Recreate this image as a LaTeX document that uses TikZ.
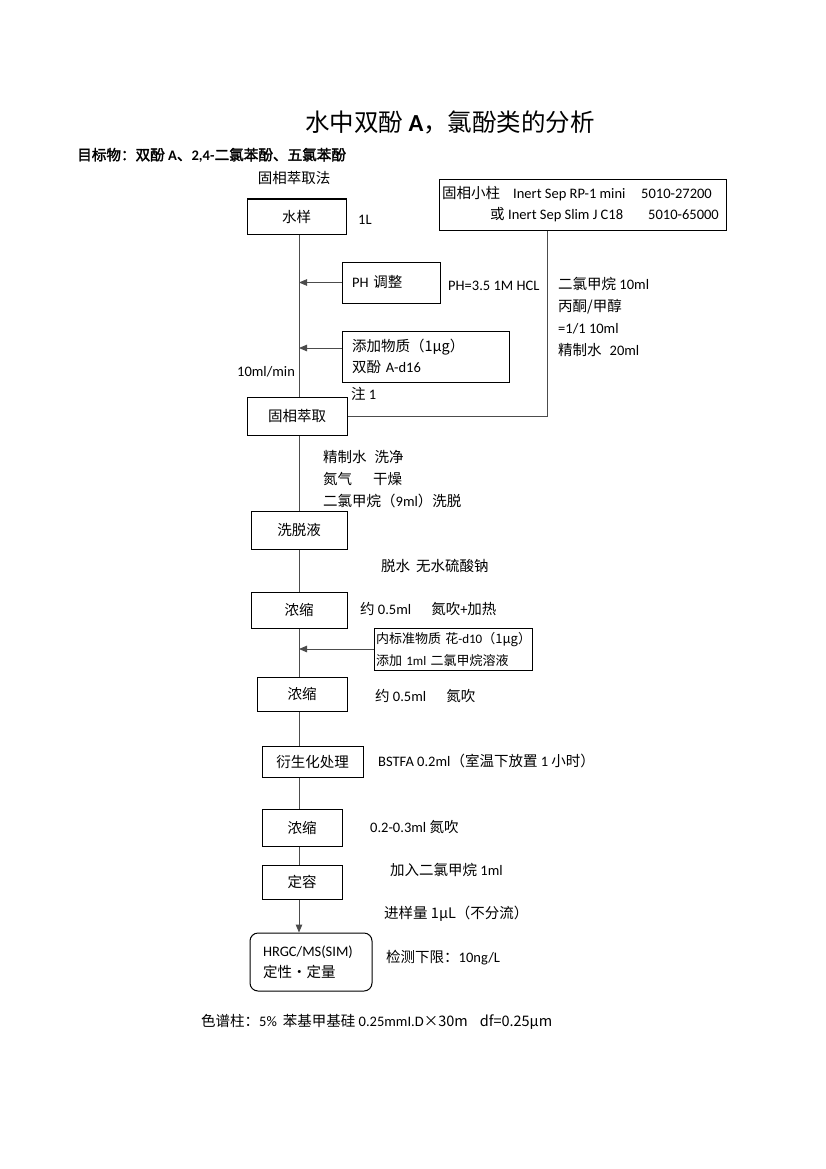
\documentclass[tikz,border=0pt]{standalone}
\usepackage{fontspec}
\setmainfont{Carlito}
\newfontfamily\cjk{Noto Sans CJK SC}[AutoFakeBold=2]
\newcommand\zh[1]{{\cjk #1}}
\usetikzlibrary{arrows.meta}
\begin{document}
\begin{tikzpicture}[x=1pt,y=-1pt,
  every node/.style={inner sep=0pt, font=\fontsize{14.5}{17.4}\selectfont},
  box/.style={draw=black, line width=1pt},
  lbl/.style={anchor=west, text height=0.75em, text depth=0.2em, yshift=-2.5pt},
  flow/.style={draw=black!70, line width=1pt},
  arr/.style={flow, -{Triangle[length=8pt,width=6.5pt]}}]
\fill[white] (0,0) rectangle (826,1169);
\useasboundingbox (0,0) rectangle (826,1169);

% titles
\node[font=\fontsize{24.5}{29}\selectfont] (title) at (450,122) {\zh{水中双酚} \textbf{A}\zh{，氯酚类的分析}};
\node[lbl, font=\bfseries\fontsize{14.6}{17}\selectfont] (target) at (77,155) {\zh{目标物：双酚} A\zh{、}2,4-\zh{二氯苯酚、五氯苯酚}};
\node (method) at (294,178) {\zh{固相萃取法}};

\coordinate (spine) at (299,0);
\coordinate (colx) at (547,0);

% boxes
\node[box, minimum width=99pt, minimum height=35pt] (s1) at (296.5,216.5) {\zh{水样}};
\node[box, minimum width=98pt, minimum height=41pt, text width=78pt, align=left] (ph) at (391,282.5) {\raisebox{2.5pt}{PH \zh{调整}}};
\node[box, minimum width=167pt, minimum height=51pt, text width=147pt, align=left,
      font=\fontsize{14.5}{21}\selectfont] (tj) at (425.5,356.5) {\zh{添加物质（1μg）}\\\zh{双酚} A-d16};
\node[box, minimum width=287pt, minimum height=50pt] (col) at (582.5,205) {};
\node[box, minimum width=100pt, minimum height=38pt] (gx) at (297,416) {\zh{固相萃取}};
\node[box, minimum width=96pt, minimum height=38pt] (xt) at (299,530) {\zh{洗脱液}};
\node[box, minimum width=96pt, minimum height=36pt] (ns1) at (299,610) {\zh{浓缩}};
\node[box, minimum width=158pt, minimum height=42pt, text width=154pt, align=left,
      font=\fontsize{13}{22}\selectfont] (nb) at (453,649) {\mbox{\zh{内标准物质\ 花}-d10\zh{（1μg）}}\\\mbox{\zh{添加} 1ml \zh{二氯甲烷溶液}}};
\node[box, minimum width=90pt, minimum height=34pt] (ns2) at (302,694) {\zh{浓缩}};
\node[box, minimum width=101pt, minimum height=31pt] (ys) at (312.5,761.5) {\zh{衍生化处理}};
\node[box, minimum width=80pt, minimum height=37pt] (ns3) at (302,827.5) {\zh{浓缩}};
\node[box, minimum width=80pt, minimum height=34pt] (dr) at (302,882) {\zh{定容}};
\node[box, rounded corners=8pt, minimum width=122pt, minimum height=58pt, text width=96pt, align=left,
      font=\fontsize{14.5}{21}\selectfont] (hr) at (311,962) {HRGC/MS(SIM)\\\zh{定性・定量}};

% text in the column box
\node[lbl] (c1a) at (442,193) {\zh{固相小柱}};
\node[lbl] (c1b) at (513,193) {Inert Sep RP-1 mini};
\node[lbl] (c1c) at (641,193) {5010-27200};
\node[lbl] (c2a) at (490,214) {\zh{或}};
\node[lbl] (c2b) at (508,214) {Inert Sep Slim J C18};
\node[lbl] (c2c) at (648,214) {5010-65000};

% labels
\node[lbl] (l1) at (358,219) {1L};
\node[lbl] (l2) at (448,285) {PH=3.5 1M HCL};
\node[lbl] (l3) at (558,284) {\zh{二氯甲烷} 10ml};
\node[lbl] (l4) at (558,306) {\zh{丙酮/甲醇}};
\node[lbl] (l5) at (558,328) {=1/1 10ml};
\node[lbl] (l6) at (558,350) {\zh{精制水}\hspace{8pt}20ml};
\node[lbl] (l7) at (237,371) {10ml/min};
\node[lbl] (l8) at (351,394) {\zh{注} 1};
\node[lbl] (l9) at (323,457) {\zh{精制水}\hspace{8pt}\zh{洗净}};
\node[lbl] (l10) at (323,479) {\zh{氮气}\hspace{21pt}\zh{干燥}};
\node[lbl] (l11) at (323,501) {\zh{二氯甲烷（}9ml\zh{）洗脱}};
\node[lbl] (l12) at (381,566) {\zh{脱水}\hspace{6pt}\zh{无水硫酸钠}};
\node[lbl] (l13) at (360,609) {\zh{约} 0.5ml\hspace{20pt}\zh{氮吹}+\zh{加热}};
\node[lbl] (l14) at (375,696) {\zh{约} 0.5ml\hspace{20pt}\zh{氮吹}};
\node[lbl] (l15) at (378,761) {BSTFA 0.2ml\zh{（室温下放置} 1 \zh{小时）}};
\node[lbl] (l16) at (370,827) {0.2-0.3ml \zh{氮吹}};
\node[lbl] (l17) at (390,870) {\zh{加入二氯甲烷} 1ml};
\node[lbl] (l18) at (384,913) {\zh{进样量 1μL（不分流）}};
\node[lbl] (l19) at (386,957) {\zh{检测下限：}10ng/L};
\node[lbl] (l20) at (201,1021) {\zh{色谱柱：}5\%\hspace{6pt}\zh{苯基甲基硅} 0.25mmI.D\zh{×30m\hspace{12pt}df=0.25μm}};

% connectors
\draw[flow] (s1.south -| spine) -- (gx.north -| spine);
\draw[arr] (ph.west) -- (ph.west -| spine);
\draw[arr] ([yshift=8.5pt]tj.west) -- ([yshift=8.5pt]tj.west -| spine);
\draw[flow] (col.south -| colx) |- (gx.east);
\draw[flow] (gx.south -| spine) -- (xt.north -| spine);
\draw[flow] (xt.south -| spine) -- (ns1.north -| spine);
\draw[flow] (ns1.south -| spine) -- (ns2.north -| spine);
\draw[arr] (nb.west) -- (nb.west -| spine);
\draw[flow] (ns2.south -| spine) -- (ys.north -| spine);
\draw[flow] (ys.south -| spine) -- (ns3.north -| spine);
\draw[flow] (ns3.south -| spine) -- (dr.north -| spine);
\draw[arr] (dr.south -| spine) -- (hr.north -| spine);
\end{tikzpicture}
\end{document}
